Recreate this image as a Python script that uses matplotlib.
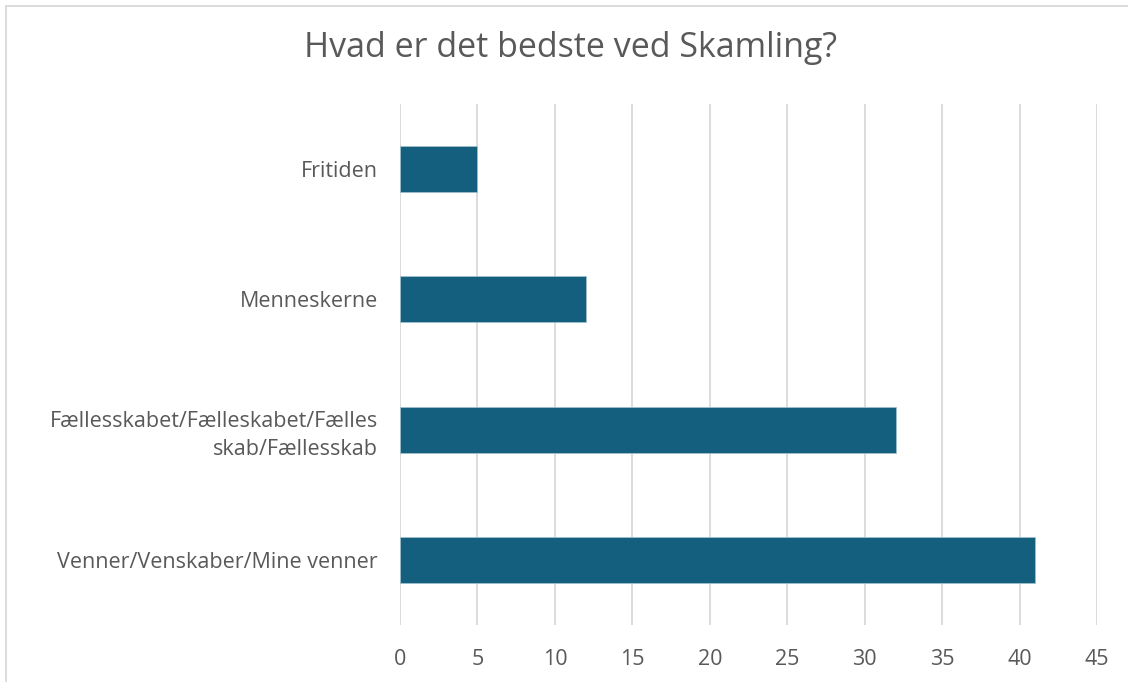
import matplotlib.pyplot as plt
from matplotlib.lines import Line2D

# data
categories = ['Fritiden', 'Menneskerne',
              'Fællesskabet/Fælleskabet/Fælles\nskab/Fællesskab',
              'Venner/Venskaber/Mine venner']
values = [5, 12, 32, 41]
x_ticks = [0, 5, 10, 15, 20, 25, 30, 35, 40, 45]

title = 'Hvad er det bedste ved Skamling?'
bar_color = '#155F7E'
text_color = '#595959'
grid_color = '#D9D9D9'

plt.rcParams['font.family'] = ['Open Sans', 'DejaVu Sans']

fig = plt.figure(figsize=(11.28, 6.82), dpi=100)
ax = fig.add_axes([0.3546, 0.0836, 0.6179, 0.7639])

pos = list(range(len(categories)))
ax.barh(pos, values, height=0.354, color=bar_color, edgecolor='#9fbfcc',
        linewidth=0.6, zorder=3)

ax.set_ylim(len(categories) - 0.5, -0.5)
ax.set_xlim(0, 45)
ax.set_xticks(x_ticks)
ax.set_yticks(pos)
ax.set_yticklabels(categories, ha='right', linespacing=1.4)
ax.xaxis.grid(True, color=grid_color, linewidth=1.3, zorder=0)
ax.tick_params(axis='both', length=0, labelsize=15.5, colors=text_color)
ax.tick_params(axis='x', pad=17)
ax.tick_params(axis='y', pad=16)
for s in ax.spines.values():
    s.set_visible(False)

fig.text(0.506, 0.93, title, ha='center', va='center', fontsize=24.5,
         color=text_color)

# chart frame (top and left edges only visible in the crop)
fig.add_artist(Line2D([0.005, 1.0], [1 - 6 / 682, 1 - 6 / 682],
                      transform=fig.transFigure, color=grid_color, lw=1.3))
fig.add_artist(Line2D([6 / 1128, 6 / 1128], [0.0, 1 - 6 / 682],
                      transform=fig.transFigure, color=grid_color, lw=1.3))

fig.savefig('out.png', dpi=100, facecolor='white')
